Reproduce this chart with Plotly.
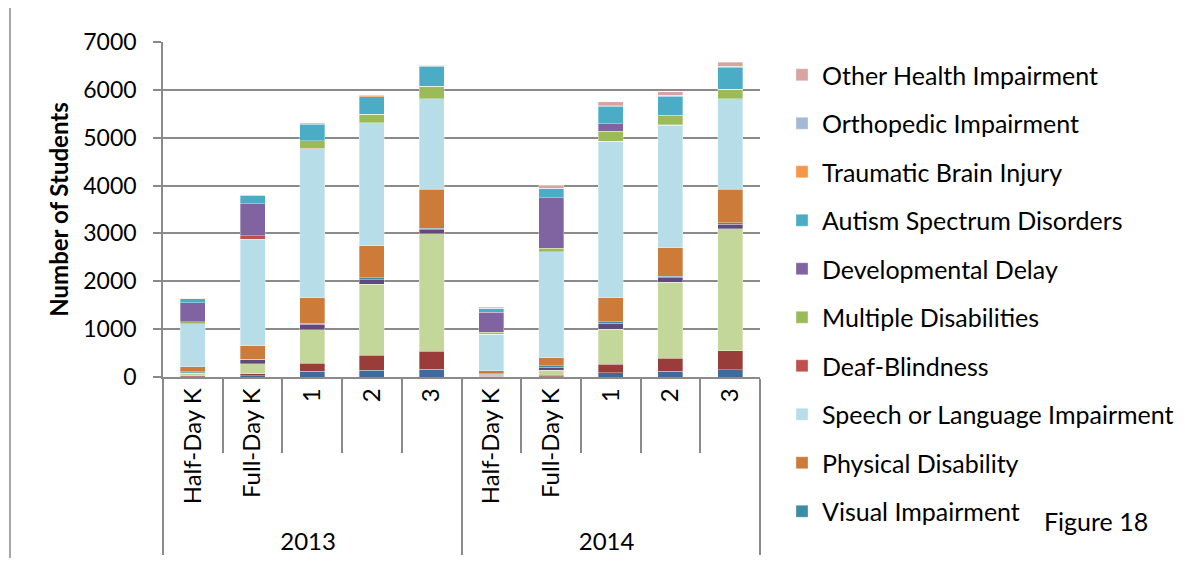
import plotly.graph_objects as go

# ---- data (bottom of stack first) ----
years = ["2013", "2013", "2013", "2013", "2013", "2014", "2014", "2014", "2014", "2014"]
grades = ["Half-Day K", "Full-Day K", "1", "2", "3", "Half-Day K", "Full-Day K", "1", "2", "3"]

hearing = [10, 28, 118, 139, 167, 8, 10, 90, 118, 153]
intellectual = [20, 42, 174, 313, 376, 10, 25, 174, 278, 396]
learning = [49, 202, 695, 1488, 2448, 30, 111, 737, 1586, 2545]
emotional = [15, 90, 111, 97, 90, 10, 55, 118, 97, 97]
visual = [13, 14, 28, 35, 28, 5, 35, 35, 28, 35]
physical = [111, 278, 528, 668, 814, 70, 167, 500, 598, 702]
speech = [897, 2225, 3115, 2573, 1891, 760, 2211, 3268, 2559, 1885]
multiple = [35, 7, 160, 174, 257, 35, 70, 215, 195, 195]
deafblind = [3, 70, 7, 3, 3, 3, 3, 3, 3, 3]
devdelay = [403, 668, 5, 5, 5, 417, 1057, 153, 5, 5]
autism = [83, 160, 341, 362, 410, 76, 188, 362, 403, 445]
tbi = [5, 3, 10, 15, 25, 5, 5, 10, 10, 20]
ortho = [5, 3, 5, 5, 3, 5, 5, 5, 10, 10]
ohi = [8, 5, 12, 10, 5, 25, 60, 80, 70, 90]

series = [
    ("Hearing Impairment", hearing, "#3F6A9D", False),
    ("Intellectual Disability", intellectual, "#9A3C3A", False),
    ("Specific Learning Disability", learning, "#C4D79B", False),
    ("Emotional Disturbance", emotional, "#604A7B", False),
    ("Visual Impairment", visual, "#3B8CA6", True),
    ("Physical Disability", physical, "#CC7B38", True),
    ("Speech or Language Impairment", speech, "#B7DEE8", True),
    ("Deaf-Blindness", deafblind, "#C0504D", True),
    ("Multiple Disabilities", multiple, "#9BBB59", True),
    ("Developmental Delay", devdelay, "#8064A2", True),
    ("Autism Spectrum Disorders", autism, "#4BACC6", True),
    ("Traumatic Brain Injury", tbi, "#F79646", True),
    ("Orthopedic Impairment", ortho, "#A6B8D8", True),
    ("Other Health Impairment", ohi, "#D9A3A2", True),
]

FONT = "Lato"
GRID = "#8A8A8A"

fig = go.Figure()
for i, (name, vals, color, show) in enumerate(series):
    fig.add_trace(go.Bar(
        x=[years, grades], y=vals, name=name,
        marker=dict(color=color, line=dict(color="rgba(255,255,255,0.55)", width=0.6)),
        showlegend=show, legendgroup=f"g{i}", legendrank=1000 - i,
    ))

# page body has an 8px margin: work in page pixels, convert to figure pixels
OFF = 8
W, H = 1188 - 2 * OFF, 566 - 2 * OFF
PL, PR, PT, PB = 163, 760, 42, 377          # plot area in page pixels
L, R, T = PL - OFF, W - (PR - OFF), PT - OFF
B = H - (PB - OFF)
pw, ph = W - L - R, H - T - B

def px_x(px):
    return (px - OFF - L) / pw

def px_y(py):
    return (H - B - (py - OFF)) / ph

fig.update_layout(
    width=W, height=H,
    margin=dict(l=L, r=R, t=T, b=B, autoexpand=False),
    barmode="stack", bargap=0.58,
    paper_bgcolor="white", plot_bgcolor="white",
    font=dict(family=FONT, size=24, color="black"),
    legend=dict(
        x=px_x(782), y=px_y(52), xanchor="left", yanchor="top",
        traceorder="grouped", tracegroupgap=13, maxheight=700,
        font=dict(family=FONT, size=25, color="black"),
        bgcolor="rgba(0,0,0,0)", itemclick=False,
    ),
    showlegend=True,
)

fig.update_yaxes(
    range=[0, 7000], dtick=1000, showgrid=True, gridcolor=GRID, gridwidth=1.5,
    showline=True, linecolor=GRID, linewidth=1.5,
    ticks="outside", ticklen=8, tickcolor=GRID, tickwidth=1.5,
    ticklabelstandoff=12, zeroline=False,
    tickfont=dict(family=FONT, size=23),
    title=dict(text="<b>Number of Students</b>", font=dict(family=FONT, size=24), standoff=8),
)
fig.update_xaxes(
    type="multicategory", showline=True, linecolor=GRID, linewidth=1.5,
    ticks="outside", ticklen=74, tickcolor=GRID, tickwidth=1.5, tickson="boundaries",
    tickangle=-90, showdividers=True, dividercolor=GRID, dividerwidth=1.5,
    tickfont=dict(family=FONT, size=24), showgrid=False,
)

fig.add_annotation(
    text="Figure 18", x=px_x(1096), y=px_y(521), xref="paper", yref="paper",
    xanchor="center", yanchor="middle",
    showarrow=False, font=dict(family=FONT, size=25, color="black"),
)

fig.add_shape(
    type="line", xref="paper", yref="paper",
    x0=px_x(10), x1=px_x(10), y0=px_y(570), y1=px_y(-4),
    line=dict(color=GRID, width=1.5),
)

fig.write_html("out.html")
